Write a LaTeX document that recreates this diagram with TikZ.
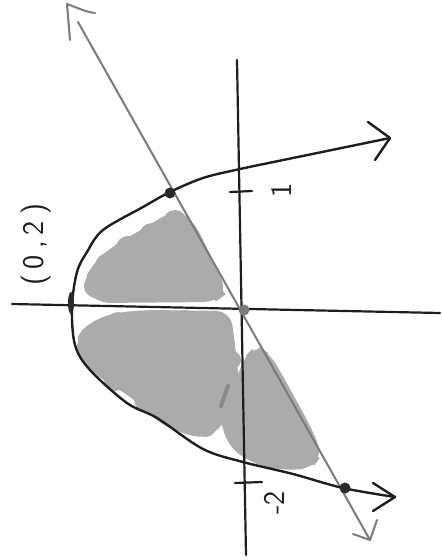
\documentclass[tikz,border=0pt]{standalone}
\usepackage{tikz}
\usetikzlibrary{shapes.geometric}
\definecolor{inkblack}{HTML}{1E1E1E}
\definecolor{inkgray}{HTML}{7A7A7A}
\definecolor{fillgray}{HTML}{ABABAB}
\definecolor{dotdark}{HTML}{2A2A2A}
\tikzset{
  axisline/.style={inkblack, line width=2.2pt, line cap=round},
  curveline/.style={inkblack, line width=2.4pt, line cap=round, line join=round},
  grayline/.style={inkgray, line width=2pt, line cap=round, line join=round},
  blob/.style={fill=fillgray, draw=fillgray, line width=6pt, rounded corners=12pt},
  lab/.style={inkblack, font=\sffamily\fontsize{30}{30}\selectfont, rotate=90, inner sep=0pt},
  ptdot/.style={circle, fill=dotdark, inner sep=0pt, minimum size=11pt},
}
\begin{document}
\begin{tikzpicture}[x=1pt,y=-1pt]
\useasboundingbox (0,0) rectangle (442,560);
% shaded regions
\filldraw[blob] (85,285) -- (95,266) -- (115,248) -- (140,234) -- (163,220) -- (178,212) -- (193,226) -- (212,266) -- (224,292) -- (214,299) -- (98,300) -- cycle;
\foreach \cx/\cy/\r in {175/222/12, 152/236/13, 128/248/12, 108/266/13, 96/286/12, 130/292/9, 170/292/9, 208/288/10}
  \fill[fillgray] (\cx,\cy) circle (\r);
\filldraw[blob] (80,336) -- (96,322) -- (120,315) -- (150,313) -- (228,314) -- (232,345) -- (236,380) -- (224,420) -- (205,436) -- (182,430) -- (160,420) -- (135,396) -- (102,376) -- (80,356) -- cycle;
\foreach \cx/\cy/\r in {92/340/14, 118/324/12, 150/320/10, 185/320/10, 216/324/11, 232/360/9, 226/400/10, 205/425/12, 175/418/11, 145/400/11, 115/380/11}
  \fill[fillgray] (\cx,\cy) circle (\r);
\filldraw[blob] (256,349) -- (268,356) -- (285,386) -- (308,428) -- (319,454) -- (310,466) -- (280,467) -- (255,461) -- (232,446) -- (223,420) -- (223,396) -- (240,380) -- (246,360) -- cycle;
\foreach \cx/\cy/\r in {259/360/11, 236/398/10, 236/432/11, 262/455/10, 290/458/10, 308/452/11}
  \fill[fillgray] (\cx,\cy) circle (\r);
\draw[color=fillgray!80!black, line width=4pt, line cap=round] (228,386) -- (221,406);
% axes
\coordinate (xl) at (12,304);
\coordinate (xr) at (440,313);
\coordinate (yt) at (237,60);
\coordinate (yb) at (246,555);
\draw[axisline] (xl) -- (xr);
\draw[axisline] (yt) -- (yb);
% ticks
\coordinate (t1a) at (230,192);
\coordinate (t1b) at (252,191);
\draw[axisline] (t1a) -- (t1b);
\coordinate (t2a) at (235,483);
\coordinate (t2b) at (262,482);
\draw[axisline] (t2a) -- (t2b);
% gray line
\coordinate (gtop) at (78,22);
\coordinate (gbot) at (370,540);
\draw[grayline] (gtop) -- (gbot);
\draw[grayline] (70,40) -- (67,4) .. controls (78,8) and (86,12) .. (95,13);
\draw[grayline] (353,534) -- (gbot) -- (377,520);
% parabola
\draw[curveline] plot[smooth, tension=0.55] coordinates {(390,138) (293,158) (240,169) (203,178) (170,192) (143,207) (103,230) (87,252) (77,272) (72,307) (75,345) (90,370) (127,403) (157,418) (203,449) (243,462) (293,474) (343,488) (395,497)};
\draw[curveline] (368,122) -- (390,138) -- (375,160);
\draw[curveline] (373,483) -- (395,497) -- (373,511);
% points
\node[ptdot] (p1) at (170,193) {};
\node[ptdot] (p2) at (345,488) {};
\node[ptdot, fill=inkgray] (o) at (244,310) {};
\node[ellipse, fill=dotdark, inner sep=0pt, minimum width=6pt, minimum height=22pt] (v) at (71,303) {};
% labels
\node[lab] (l1) at (281,190) {1};
\node[lab] (l2) at (274,503) {-2};
\node[lab] (lv) at (36,245) {(\hspace{6pt}0\hspace{6pt},\hspace{6pt}2\hspace{6pt})};
\end{tikzpicture}
\end{document}
